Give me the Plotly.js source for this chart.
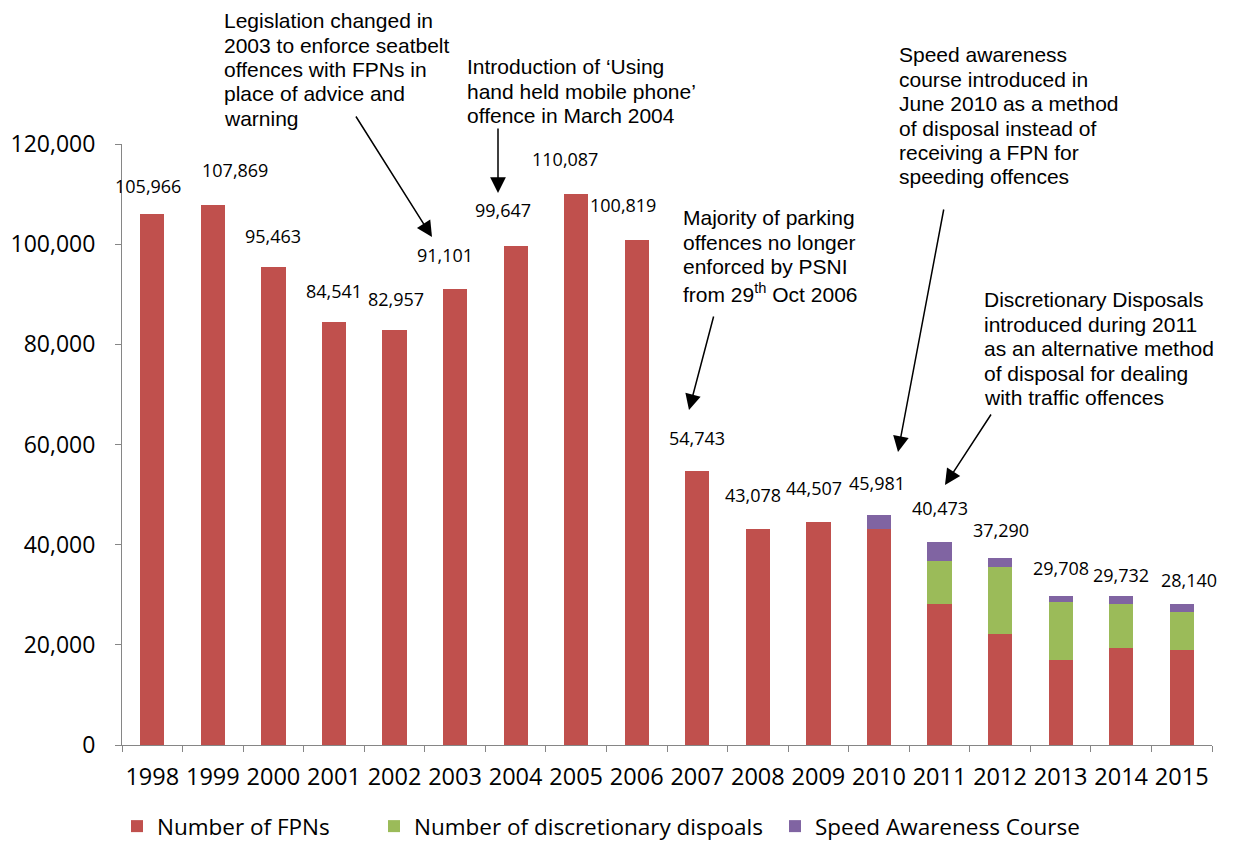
<!DOCTYPE html>
<html>
<head>
<meta charset="utf-8">
<script src="https://cdn.plot.ly/plotly-3.0.1.min.js"></script>
<style>
  html, body { margin: 0; padding: 0; background: #fff; }
  #chart { width: 1234px; height: 848px; }
</style>
</head>
<body>
<div id="chart"></div>
<script>
// ---- data ----
var years = ['1998','1999','2000','2001','2002','2003','2004','2005','2006','2007','2008','2009','2010','2011','2012','2013','2014','2015'];
var fpns = [105966, 107869, 95463, 84541, 82957, 91101, 99647, 110087, 100819, 54743, 43078, 44507, 43100, 28200, 22200, 17000, 19400, 18900];
var discretionary = [null, null, null, null, null, null, null, null, null, null, null, null, null, 8600, 13300, 11500, 8700, 7600];
var speedCourse = [null, null, null, null, null, null, null, null, null, null, null, null, 2881, 3673, 1790, 1208, 1632, 1640];
var totals = [105966, 107869, 95463, 84541, 82957, 91101, 99647, 110087, 100819, 54743, 43078, 44507, 45981, 40473, 37290, 29708, 29732, 28140];
var seriesNames = ['Number of FPNs', 'Number of discretionary dispoals', 'Speed Awareness Course'];
var yTicks = [0, 20000, 40000, 60000, 80000, 100000, 120000];

// ---- styling ----
var colors = ['#C0504D', '#9BBB59', '#8064A2'];
// label nudges (pixels) relative to top of each stacked bar
var labelDx = [-4, 22, 0, 0, 1, -10, -13, -11, -14, 0, -5, -4, -2, 0, 1, 0, 0, 7];
var labelDy = [28, 35, 31, 31, 31, 34, 36, 35, 35, 33, 34, 34, 32, 34, 28, 28, 21, 24];

var L = 122, R = 1212, T = 144, B = 745;
function px(xp) { return (xp - L) / (R - L); }
function py(yp) { return (B - yp) / (B - T); }

var traces = [
  {type: 'bar', x: years, y: fpns, name: seriesNames[0], marker: {color: colors[0]}, legend: 'legend'},
  {type: 'bar', x: years, y: discretionary, name: seriesNames[1], marker: {color: colors[1]}, legend: 'legend2'},
  {type: 'bar', x: years, y: speedCourse, name: seriesNames[2], marker: {color: colors[2]}, legend: 'legend3'}
];

var annotations = [];
var fmt = function (v) { return v.toString().replace(/\B(?=(\d{3})+(?!\d))/g, ','); };
years.forEach(function (yr, i) {
  annotations.push({
    x: i, y: totals[i], xref: 'x', yref: 'y',
    text: fmt(totals[i]), showarrow: false,
    xanchor: 'center', yanchor: 'middle',
    xshift: labelDx[i], yshift: labelDy[i],
    font: {family: 'Open Sans, sans-serif', size: 18, color: '#000'}
  });
});

var noteSize = 21;
var noteFont = {family: 'Liberation Sans, Arial, sans-serif', size: noteSize, color: '#000'};
var lineStep = 24.4;
var notes = [
  {x: 225, c: 20.8, lines: ['Legislation changed in', '2003 to enforce seatbelt', 'offences with FPNs in', 'place of advice and', 'warning']},
  {x: 468, c: 67, lines: ['Introduction of \u2018Using', 'hand held mobile phone\u2019', 'offence in March 2004']},
  {x: 684, c: 218, lines: ['Majority of parking', 'offences no longer', 'enforced by PSNI', 'from 29<sup>th</sup> Oct 2006']},
  {x: 900, c: 55, lines: ['Speed awareness', 'course introduced in', 'June 2010 as a method', 'of disposal instead of', 'receiving a FPN for', 'speeding offences']},
  {x: 985, c: 300, lines: ['Discretionary Disposals', 'introduced during 2011', 'as an alternative method', 'of disposal for dealing', 'with traffic offences']}
];
notes.forEach(function (n) {
  n.lines.forEach(function (ln, k) {
    var top = n.c + k * lineStep - 0.65 * noteSize;
    annotations.push({
      x: px(n.x - 3), y: py(top), xref: 'paper', yref: 'paper',
      text: ln, showarrow: false, xanchor: 'left', yanchor: 'top', align: 'left',
      font: noteFont
    });
  });
});

var arrows = [
  {hx: 432, hy: 237, tx: 355, ty: 115},
  {hx: 498, hy: 193, tx: 498, ty: 127},
  {hx: 689, hy: 410, tx: 714, ty: 315},
  {hx: 898, hy: 452, tx: 944, ty: 208},
  {hx: 945, hy: 485, tx: 992, ty: 413}
];
arrows.forEach(function (a) {
  annotations.push({
    x: px(a.hx), y: py(a.hy), xref: 'paper', yref: 'paper',
    ax: a.tx - a.hx, ay: a.ty - a.hy, axref: 'pixel', ayref: 'pixel',
    text: '', showarrow: true, arrowhead: 2, arrowsize: 2.1, arrowwidth: 1.5,
    arrowcolor: '#000', standoff: 0, startstandoff: 0
  });
});

var legendFont = {family: 'Open Sans, sans-serif', size: 22.5, color: '#000'};
function legendAt(xpix) {
  return {orientation: 'h', xref: 'container', yref: 'container', x: xpix / 1234, y: -6 / 848,
          xanchor: 'left', yanchor: 'bottom', font: legendFont, bgcolor: 'rgba(0,0,0,0)', borderwidth: 0};
}

var layout = {
  width: 1234, height: 848,
  margin: {l: L, r: 1234 - R, t: T, b: 848 - B},
  paper_bgcolor: '#fff', plot_bgcolor: '#fff',
  barmode: 'stack', bargap: 0.6,
  font: {family: 'Open Sans, sans-serif', color: '#000'},
  xaxis: {
    type: 'category', range: [-0.5, years.length - 0.5], autorange: false,
    showline: true, linecolor: '#868686', linewidth: 1,
    ticks: 'outside', tickson: 'boundaries', ticklen: 6, tickcolor: '#868686',
    tickangle: 0, tickfont: {family: 'Open Sans, sans-serif', size: 23.5, color: '#000'},
    ticklabelstandoff: 11, showgrid: false, zeroline: false, fixedrange: true
  },
  yaxis: {
    range: [0, 120000], autorange: false, tickvals: yTicks, tickformat: ',d',
    showline: true, linecolor: '#868686', linewidth: 1,
    ticks: 'outside', ticklen: 6, tickcolor: '#868686',
    tickfont: {family: 'Open Sans, sans-serif', size: 23, color: '#000'},
    ticklabelstandoff: 15, showgrid: false, zeroline: false, fixedrange: true
  },
  showlegend: true,
  legend: legendAt(117),
  legend2: legendAt(374),
  legend3: legendAt(775),
  annotations: annotations
};

Plotly.newPlot('chart', traces, layout, {displayModeBar: false, staticPlot: true});
</script>
</body>
</html>
